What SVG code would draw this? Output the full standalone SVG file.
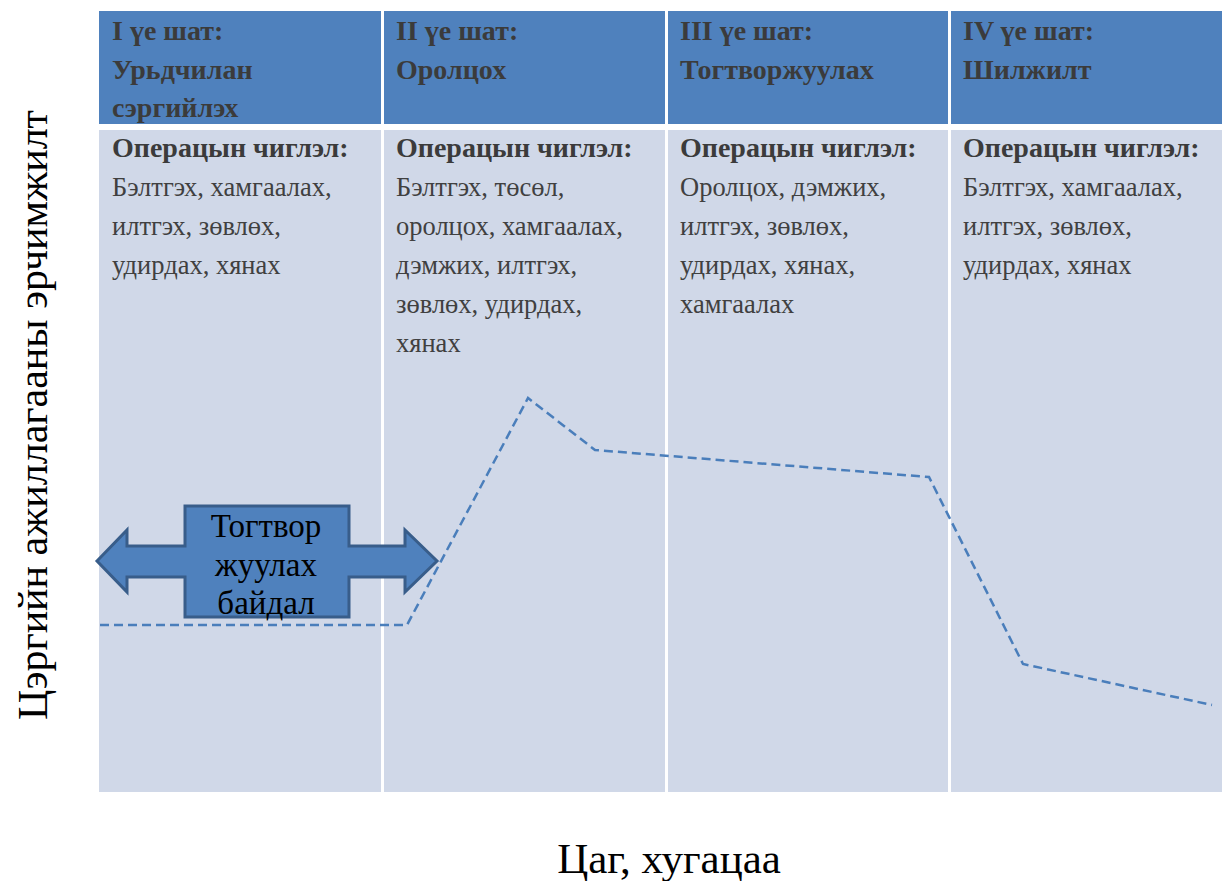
<svg xmlns="http://www.w3.org/2000/svg" width="1222" height="881" viewBox="0 0 1222 881">
<style>
.hdr{fill:#4f81bd}
.body{fill:#d0d8e8}
.ht{font-family:"Liberation Serif","Times New Roman",serif;font-size:28px;font-weight:bold;fill:#3b3b3b}
.bt{font-family:"Liberation Serif","Times New Roman",serif;font-size:26.5px;fill:#404040}
.bt tspan.b{font-weight:bold;font-size:28px;fill:#3b3b3b}
.ax{font-family:"Liberation Serif","Times New Roman",serif;font-size:43px;fill:#000}
.ay{font-family:"Liberation Serif","Times New Roman",serif;font-size:42px;fill:#000}
.at{font-family:"Liberation Serif","Times New Roman",serif;font-size:33px;fill:#000}
.dash{fill:none;stroke:#4a7ebb;stroke-width:2.5;stroke-dasharray:9 5}
</style>
<rect width="1222" height="881" fill="#ffffff"/>
<g id="stage1">
<rect class="hdr" x="99" y="11" width="282" height="113"/>
<rect class="body" x="99" y="130" width="282" height="662"/>
<text class="ht" x="112"><tspan x="112" y="40">I үе шат:</tspan><tspan x="112" y="79">Урьдчилан</tspan><tspan x="112" y="117">сэргийлэх</tspan></text>
<text class="bt"><tspan class="b" x="112" y="157">Операцын чиглэл:</tspan><tspan x="112" y="196">Бэлтгэх, хамгаалах,</tspan><tspan x="112" y="235">илтгэх, зөвлөх,</tspan><tspan x="112" y="274">удирдах, хянах</tspan></text>
</g>
<g id="stage2">
<rect class="hdr" x="384" y="11" width="281" height="113"/>
<rect class="body" x="384" y="130" width="281" height="662"/>
<text class="ht"><tspan x="396" y="40">II үе шат:</tspan><tspan x="396" y="79">Оролцох</tspan></text>
<text class="bt"><tspan class="b" x="396" y="157">Операцын чиглэл:</tspan><tspan x="396" y="196">Бэлтгэх, төсөл,</tspan><tspan x="396" y="235">оролцох, хамгаалах,</tspan><tspan x="396" y="274">дэмжих, илтгэх,</tspan><tspan x="396" y="313">зөвлөх, удирдах,</tspan><tspan x="396" y="352">хянах</tspan></text>
</g>
<g id="stage3">
<rect class="hdr" x="668" y="11" width="280" height="113"/>
<rect class="body" x="668" y="130" width="280" height="662"/>
<text class="ht"><tspan x="680" y="40">III үе шат:</tspan><tspan x="680" y="79">Тогтворжуулах</tspan></text>
<text class="bt"><tspan class="b" x="680" y="157">Операцын чиглэл:</tspan><tspan x="680" y="196">Оролцох, дэмжих,</tspan><tspan x="680" y="235">илтгэх, зөвлөх,</tspan><tspan x="680" y="274">удирдах, хянах,</tspan><tspan x="680" y="313">хамгаалах</tspan></text>
</g>
<g id="stage4">
<rect class="hdr" x="951" y="11" width="271" height="113"/>
<rect class="body" x="951" y="130" width="271" height="662"/>
<text class="ht"><tspan x="963" y="40">IV үе шат:</tspan><tspan x="963" y="79">Шилжилт</tspan></text>
<text class="bt"><tspan class="b" x="963" y="157">Операцын чиглэл:</tspan><tspan x="963" y="196">Бэлтгэх, хамгаалах,</tspan><tspan x="963" y="235">илтгэх, зөвлөх,</tspan><tspan x="963" y="274">удирдах, хянах</tspan></text>
</g>
<g id="stability-arrow">
<polygon points="97,561 127,530 127,546 185,546 185,506 349,506 349,546 405,546 405,530 437,561 405,592 405,577 349,577 349,617 185,617 185,577 127,577 127,592" fill="#4f81bd" stroke="#385d8a" stroke-width="3" stroke-linejoin="miter"/>
<text class="at" text-anchor="middle"><tspan x="266" y="537">Тогтвор</tspan><tspan x="266" y="576">жуулах</tspan><tspan x="266" y="614">байдал</tspan></text>
</g>
<g id="connectors">
<polyline class="dash" points="100,625 407,625 528,398 595,450 929,477 1023,664 1212,705"/>
</g>
<g id="axis-labels">
<text class="ax" text-anchor="middle" x="669" y="873">Цаг, хугацаа</text>
<text class="ay" text-anchor="middle" transform="translate(47,415) rotate(-90)">Цэргийн ажиллагааны эрчимжилт</text>
</g>
</svg>
